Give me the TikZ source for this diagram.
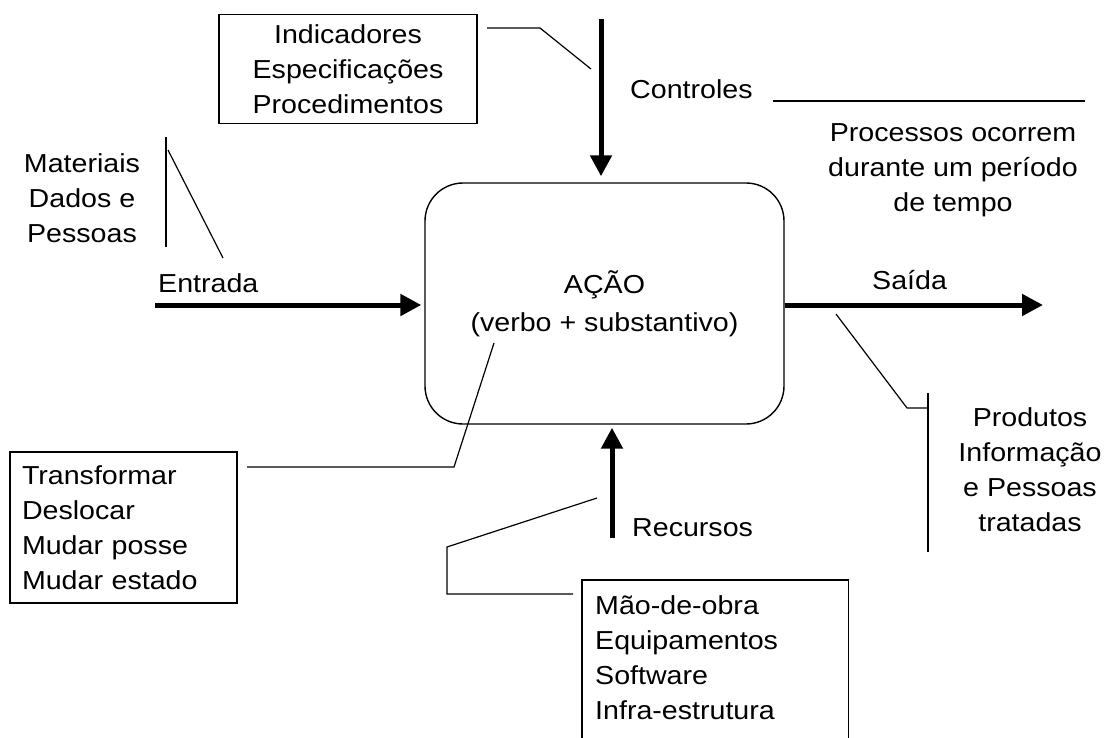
\documentclass[tikz,border=0pt]{standalone}
\usepackage{fontspec}
\setmainfont{Liberation Sans}[FakeStretch=1.1]
\usetikzlibrary{arrows.meta}
\begin{document}
\begin{tikzpicture}[x=1pt,y=-1pt,
  txt/.style={inner sep=0pt, font=\fontsize{26}{35}\selectfont},
  frame/.style={draw, line width=1.4pt},
  thin/.style={line width=1.2pt},
  bigarrow/.style={line width=5pt, -{Triangle[length=21pt,width=21pt]}},
]
\useasboundingbox[fill=white] (0,0) rectangle (1108,738);

% central process
\node[frame, rounded corners=38pt, minimum width=359pt, minimum height=241pt,
      inner sep=0pt, align=center, font=\fontsize{26}{38}\selectfont]
  (acao) at (604.5,303.5) {AÇÃO\\(verbo + substantivo)};

% controls box and label
\node[frame, txt, align=center, minimum width=258pt, minimum height=109pt]
  (ind) at (348,69) {Indicadores\\Especificações\\Procedimentos};
\node[txt, anchor=west] (ctrl) at (630,89) {Controles};
\node[txt, align=center] (proc) at (953,170) {Processos ocorrem\\durante um período\\de tempo};

% inputs
\node[txt, align=center] (mat) at (82,198) {Materiais\\Dados e\\Pessoas};
\node[txt, anchor=west] (ent) at (158,283) {Entrada};

% outputs
\node[txt, anchor=west] (sai) at (872,280) {Saída};
\node[txt, align=center] (prod) at (1030,470) {Produtos\\Informação\\e Pessoas\\tratadas};

% verbs box
\node[frame, txt, align=left, text width=203pt, inner xsep=12pt,
      minimum height=151pt] (verb) at (123.5,527.5)
  {Transformar\\Deslocar\\Mudar posse\\Mudar estado};

% resources
\node[txt, anchor=west] (recl) at (632,528) {Recursos};
\node[txt, align=left, text width=240pt, inner xsep=13pt, inner ysep=15pt,
      anchor=north west] (res) at (582,580)
  {Mão-de-obra\\Equipamentos\\Software\\Infra-estrutura};
\draw[frame] ([yshift=-30pt]res.south west) -- (res.north west)
  -- (res.north east) -- ([yshift=-30pt]res.south east);

% arrow anchors and callout bends
\coordinate (ctlTop) at (601,19);
\coordinate (inStart) at (155,305);
\coordinate (outEnd) at (1043,305);
\coordinate (recBot) at (612,538);

\coordinate (indA) at (487,28);
\coordinate (indB) at (540,28);
\coordinate (indC) at (591,69);

\coordinate (tA) at (773,101);
\coordinate (tB) at (1085,101);

\coordinate (matV1) at (166,137);
\coordinate (matV2) at (166,247);
\coordinate (matD1) at (168,150);
\coordinate (matD2) at (223,258);

\coordinate (saiA) at (836,314);
\coordinate (saiB) at (907,408);
\coordinate (saiC) at (928,408);
\coordinate (prV1) at (928,393);
\coordinate (prV2) at (928,552);

\coordinate (vbA) at (247,467);
\coordinate (vbB) at (454,467);
\coordinate (vbC) at (494,343);

\coordinate (rsA) at (597,498);
\coordinate (rsB) at (447,547);
\coordinate (rsC) at (447,594);
\coordinate (rsD) at (573,594);

% main flows
\draw[bigarrow] (ctlTop) -- ([yshift=6pt]ctlTop |- acao.north);
\draw[bigarrow] (inStart) -- ([xshift=-3pt]acao.west |- inStart);
\draw[bigarrow] (acao.east |- outEnd) -- (outEnd);
\draw[bigarrow] (recBot) -- ([yshift=-3pt]recBot |- acao.south);

% annotation lines
\draw[thin] (indA) -- (indB) -- (indC);
\draw[thin] (tA) -- (tB);
\draw[thin] (matV1) -- (matV2);
\draw[thin] (matD1) -- (matD2);
\draw[thin] (saiA) -- (saiB) -- (saiC);
\draw[thin] (prV1) -- (prV2);
\draw[thin] (vbA) -- (vbB) -- (vbC);
\draw[thin] (rsA) -- (rsB) -- (rsC) -- (rsD);
\end{tikzpicture}
\end{document}
